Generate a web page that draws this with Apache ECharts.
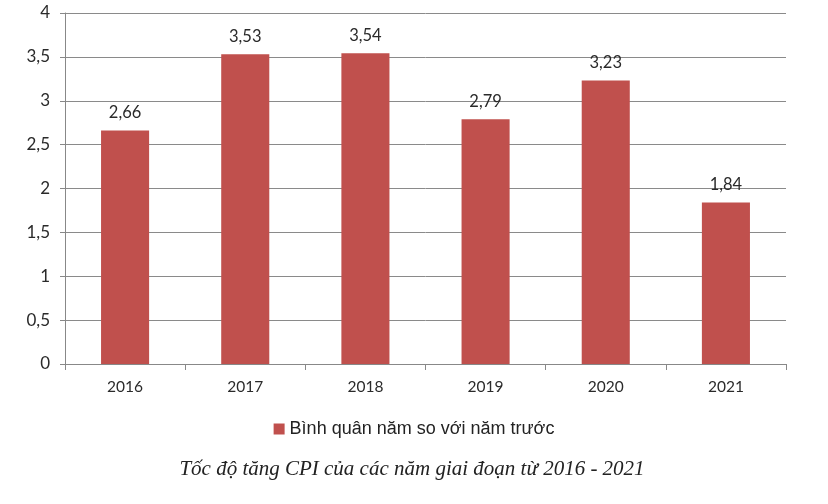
<!DOCTYPE html>
<html><head><meta charset="utf-8">
<script src="https://cdn.jsdelivr.net/npm/echarts@6/dist/echarts.min.js"></script>
<style>html,body{margin:0;padding:0;background:#fff}#c{width:828px;height:504px}</style>
</head><body><div id="c"></div>
<script>
const categories = ['2016','2017','2018','2019','2020','2021'];
const values = [2.66, 3.53, 3.54, 2.79, 3.23, 1.84];
const seriesName = 'Bình quân năm so với năm trước';
const caption = 'Tốc độ tăng CPI của các năm giai đoạn từ 2016 - 2021';
const fmt = v => String(v).replace('.', ',');
const chart = echarts.init(document.getElementById('c'));
chart.setOption({
  animation: false,
  backgroundColor: '#fff',
  grid: {left: 65, right: 42, top: 13, bottom: 140},
  title: {text: caption, left: 407, textAlign: 'center', top: 454,
    textStyle: {fontFamily: 'Liberation Serif', fontStyle: 'italic', fontWeight: 'normal', fontSize: 21, color: '#222'}},
  legend: {data: [seriesName], left: 'center', top: 415, icon: 'rect', itemWidth: 11, itemHeight: 11, itemGap: 6,
    textStyle: {fontFamily: 'Liberation Sans', fontSize: 18, color: '#222'}},
  xAxis: {type: 'category', data: categories,
    axisLine: {lineStyle: {color: '#888'}},
    axisTick: {show: true, alignWithLabel: false, length: 6, lineStyle: {color: '#888'}},
    axisLabel: {fontFamily: 'Lato', fontSize: 15.5, color: '#2a2a2a', margin: 15}},
  yAxis: {type: 'value', min: 0, max: 4, interval: 0.5,
    axisLine: {show: true, lineStyle: {color: '#888'}},
    axisTick: {show: true, length: 5, lineStyle: {color: '#888'}},
    splitLine: {lineStyle: {color: '#8a8a8a'}},
    axisLabel: {fontFamily: 'Lato', fontSize: 17, color: '#2a2a2a', margin: 15, formatter: v => fmt(v)}},
  series: [{name: seriesName, type: 'bar', data: values, barWidth: '40%',
    itemStyle: {color: '#C0504D'},
    label: {show: true, position: 'top', distance: 9, fontFamily: 'Lato', fontSize: 16.5, color: '#2a2a2a',
      formatter: p => fmt(p.value)}}]
});
</script></body></html>
